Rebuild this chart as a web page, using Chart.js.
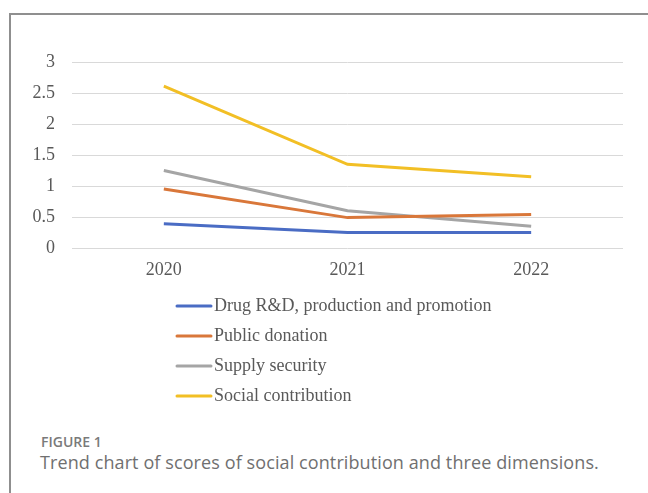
<!DOCTYPE html>
<html><head><meta charset="utf-8">
<script src="https://cdn.jsdelivr.net/npm/chart.js@4/dist/chart.umd.min.js"></script>
<style>
html,body{margin:0;padding:0;background:#fff;width:648px;height:493px;overflow:hidden;position:relative}
#frame{position:absolute;left:9px;top:13px;width:660px;height:500px;border-left:2px solid #8f8f8f;border-top:2px solid #8f8f8f}
#wrap{position:absolute;left:0;top:0;width:648px;height:420px}
#cap1{position:absolute;left:41px;top:432px;font-family:"Open Sans",sans-serif;font-size:14px;font-weight:600;color:#7a7a7a}
#cap2{position:absolute;left:40px;top:450px;font-family:"Open Sans",sans-serif;font-size:18px;font-weight:400;color:#707070;letter-spacing:0.1px}
</style></head>
<body>
<div id="frame"></div>
<div id="wrap"><canvas id="c" width="648" height="420"></canvas></div>
<div id="cap1">FIGURE 1</div>
<div id="cap2">Trend chart of scores of social contribution and three dimensions.</div>
<script>
const years = ["2020", "2021", "2022"];
const seriesNames = ["Drug R&D, production and promotion", "Public donation", "Supply security", "Social contribution"];
const drugRD = [0.39, 0.25, 0.25];
const publicDonation = [0.95, 0.49, 0.54];
const supplySecurity = [1.25, 0.60, 0.35];
const socialContribution = [2.61, 1.35, 1.15];
const seriesColors = ["#4A6CC4", "#D9773A", "#A5A5A5", "#F2BF25"];
const yTicks = [0, 0.5, 1, 1.5, 2, 2.5, 3];

const values = [drugRD, publicDonation, supplySecurity, socialContribution];
const fontFam = '"Liberation Serif","Times New Roman",serif';

const legendPlugin = {
  id: 'vlegend',
  afterDraw(chart) {
    const ctx = chart.ctx;
    ctx.save();
    chart.data.datasets.forEach((ds, i) => {
      const y = 306 + i * 30;
      ctx.strokeStyle = ds.borderColor;
      ctx.lineWidth = 3;
      ctx.lineCap = 'round';
      ctx.beginPath();
      ctx.moveTo(177, y);
      ctx.lineTo(211, y);
      ctx.stroke();
      ctx.fillStyle = '#595959';
      ctx.font = '18px ' + fontFam;
      ctx.textBaseline = 'middle';
      ctx.textAlign = 'left';
      ctx.fillText(ds.label, 214, y);
    });
    ctx.restore();
  }
};

new Chart(document.getElementById('c'), {
  type: 'line',
  data: {
    labels: years,
    datasets: seriesNames.map((n, i) => ({
      label: n,
      data: values[i],
      borderColor: seriesColors[i],
      backgroundColor: seriesColors[i],
      borderWidth: 3,
      pointRadius: 0,
      tension: 0,
      fill: false
    }))
  },
  options: {
    responsive: false,
    animation: false,
    devicePixelRatio: 1,
    layout: { padding: { left: 0, right: 25, top: 62, bottom: 0 } },
    plugins: { legend: { display: false }, tooltip: { enabled: false } },
    scales: {
      x: {
        offset: true,
        grid: { display: false, drawTicks: false },
        border: { display: false },
        ticks: { color: '#595959', font: { family: fontFam, size: 18 }, padding: 11, maxRotation: 0 },
        afterFit(s) { s.height = 172; }
      },
      y: {
        min: 0, max: 3,
        afterBuildTicks(s) { s.ticks = yTicks.map(v => ({ value: v })); },
        grid: { color: '#d9d9d9', lineWidth: 1, drawTicks: false },
        border: { display: false },
        ticks: { color: '#595959', font: { family: fontFam, size: 18 }, padding: 17, callback: v => String(v) },
        afterFit(s) { s.width = 72; }
      }
    }
  },
  plugins: [legendPlugin]
});
</script>
</body></html>
